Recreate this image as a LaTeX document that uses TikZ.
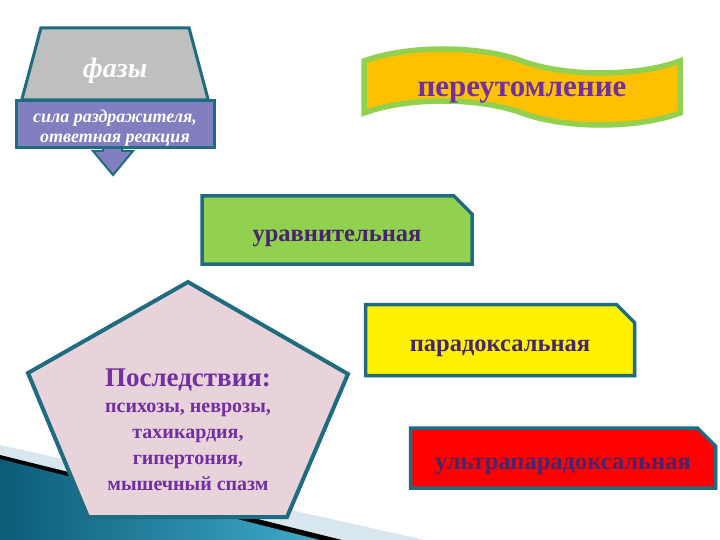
\documentclass[tikz,border=0pt]{standalone}
\usepackage{fontspec}
\setmainfont{Liberation Serif}
\usepackage{xcolor}
\usetikzlibrary{positioning,shapes.geometric,shapes.misc,shapes.symbols,shadows,calc}
\definecolor{tealline}{HTML}{1F6B80}
\definecolor{phasegray}{HTML}{BFBFBF}
\definecolor{lavender}{HTML}{8080C0}
\definecolor{bannerfill}{HTML}{FFC000}
\definecolor{lightgreen}{HTML}{92D050}
\definecolor{pinkfill}{HTML}{E8D3DB}
\definecolor{purpletext}{HTML}{7030A0}
\definecolor{boxtext}{HTML}{46256F}
\definecolor{bandgray}{HTML}{D8E6EE}
\definecolor{tealdark}{HTML}{0B5C78}
\definecolor{teallight}{HTML}{3FA9C9}
\tikzset{stage node/.style={chamfered rectangle,chamfered rectangle corners=north east,
    chamfered rectangle sep=9pt,draw=tealline,line width=3.5pt,inner sep=0pt,
    drop shadow={shadow xshift=1.5pt,shadow yshift=-1.5pt,fill=tealline,opacity=1},
    text height=22pt,text depth=0pt,
    font=\fontsize{24.5}{28}\selectfont\bfseries,text=boxtext}}
\newcommand{\lowered}[2]{\raisebox{-#1}[\height][\depth]{#2}}

\begin{document}
\begin{tikzpicture}[x=1pt,y=-1pt]
      \useasboundingbox (0,0) rectangle (720,540);
      % background wedge
      \fill[bandgray] (0,445) -- (425,540) -- (0,540) -- cycle;
      \fill[black] (0,455) -- (342,540) -- (0,540) -- cycle;
      \shade[left color=tealdark,right color=teallight] (0,459) -- (320,540) -- (0,540) -- cycle;
      % phases
      \node[trapezium,trapezium left angle=74,trapezium right angle=74,trapezium stretches=true,
        minimum width=188pt,minimum height=72pt,fill=phasegray,draw=tealline,line width=3pt,
        text=white,font=\fontsize{28}{32}\selectfont\bfseries\itshape] (phase) at (115,64) {\lowered{7pt}{фазы}};
      \draw[fill=lavender,draw=tealline,line width=2pt,line join=miter]
        (103,146) -- (122,146) -- (122,151) -- (133,151) -- (113,175) -- (93,151) -- (103,151) -- cycle;
      \node[rectangle,minimum width=198pt,minimum height=46pt,fill=lavender,draw=tealline,line width=3pt,
        text=white,font=\fontsize{18}{20}\selectfont\bfseries\itshape] (stimulus) at (115,124)
        {\lowered{5pt}{\begin{tabular}{@{}c@{}}сила раздражителя,\\ответная реакция\end{tabular}}};
      % banner
      \node[tape,tape bend top=out and in,tape bend bottom=out and in,tape bend height=24pt,
        minimum width=316pt,minimum height=76pt,fill=bannerfill,draw=lightgreen,line width=5.5pt,
        text height=19pt,text depth=0pt,
        text=purpletext,font=\fontsize{31}{34}\selectfont\bfseries] (fatigue) at (522,87) {переутомление};
      % stages
      \node[stage node,fill=lightgreen,minimum width=270pt,minimum height=68pt] (equal) at (337,230) {уравнительная};
      \node[stage node,fill=yellow,minimum width=269pt,minimum height=71pt] (paradox) at (500,340) {парадоксальная};
      \node[stage node,fill=red,minimum width=305pt,minimum height=60pt] (ultra) at (563,458) {ультрапарадоксальная};
      % consequences
      \draw[fill=pinkfill,draw=tealline,line width=4pt,line join=miter]
        (188,282) -- (348,374) -- (287,517) -- (88,517) -- (28,373) -- cycle;
      \node[align=center,text=purpletext,font=\fontsize{20}{26}\selectfont\bfseries] (effects) at (188,430)
        {{\fontsize{27}{30}\selectfont Последствия:}\\психозы, неврозы,\\тахикардия,\\гипертония,\\мышечный спазм};
\end{tikzpicture}
\end{document}
